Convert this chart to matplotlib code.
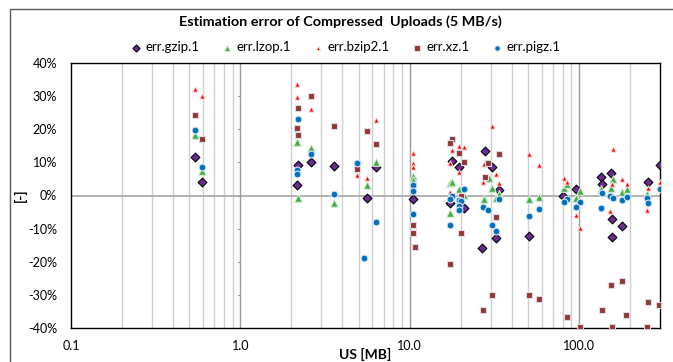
import numpy as np
import matplotlib.pyplot as plt
from matplotlib.patches import Rectangle
from matplotlib.ticker import FixedLocator, NullFormatter

plt.rcParams['font.family'] = ['Lato', 'DejaVu Sans']

# --- data: (upload size [MB], estimation error [%]) ---
gzip_x = [0.54, 0.59, 2.2, 2.16, 2.6, 3.55, 5.56, 6.3, 10.5, 17.8, 17.2, 19.5, 21, 27.9, 30.7,
          33.7, 32.2, 26.7, 50.3, 80.7, 95.7, 134, 154, 136, 157, 178, 157, 255, 298]
gzip_y = [11.5, 4.2, 9.2, 3.3, 10.2, 8.9, -0.7, 8.7, -1.0, 10.4, -2.4, 8.5, -3.9, 13.5, 8.6,
          1.8, -12.9, -15.9, -12.2, -0.2, 1.9, 5.5, 6.7, 3.4, -7.0, -9.1, -12.4, 4.0, 9.2]

lzop_x = [0.54, 0.59, 2.16, 2.2, 2.6, 3.55, 5.56, 6.3, 10.5, 10.5, 17.2, 17.8, 17.2, 19.5, 21,
          29.4, 30.7, 33.7, 27.5, 32.2, 50.3, 57.6, 81.9, 84.7, 101, 95.7, 159, 153.8, 134,
          178, 191, 250, 298]
lzop_y = [18.3, 7.5, 16.2, -0.7, 14.4, -2.3, 3.1, 10.0, 5.9, 4.7, 3.7, 4.1, -5.2, 1.9, 0.2,
          5.2, 2.4, 0.5, -1.1, -0.8, -1.2, -0.5, 2.2, 3.4, 1.5, -0.7, 4.9, 2.2, 1.9,
          1.1, 1.9, 0.5, 3.0]

bzip2_x = [0.54, 0.59, 2.16, 2.16, 2.6, 4.88, 5.56, 6.3, 10.5, 10.5, 10.5, 17.8, 17.2, 17.2,
           19.5, 21, 19.5, 30.7, 27.6, 32.2, 27.0, 33.7, 50.3, 57.6, 81.9, 84.7, 95.7, 101,
           159, 178, 157, 191, 152, 255, 250, 298]
bzip2_y = [32.2, 30.0, 33.8, 29.7, 26.0, 6.2, 5.4, 22.8, 12.7, 9.7, 8.5, 13.7, 9.7, 1.2,
           15.0, 14.5, 7.2, 21.0, 9.6, 6.5, 4.0, 3.9, 12.4, 9.2, 5.4, 4.2, -5.9, -9.9,
           14.0, 5.1, 3.5, 3.4, -4.7, 2.2, -4.4, 4.0]

xz_x = [0.54, 0.59, 2.2, 2.16, 2.2, 2.6, 3.55, 4.88, 5.56, 6.3, 10.5, 10.5, 10.7, 17.8, 17.2,
        17.2, 19.5, 21, 20, 20, 33.7, 29.1, 27.9, 32.2, 30.7, 27.0, 50.5, 57.6, 84.5, 101,
        136, 154, 178, 157, 189, 254, 250, 297]
xz_y = [24.4, 17.0, 26.4, 20.3, 18.2, 29.9, 21.1, 7.9, 19.6, 15.5, -9.0, -11.2, -15.5, 17.0, 15.8,
        -20.7, 12.9, 10.2, -0.2, -11.4, 12.4, 9.9, 5.5, -6.4, -30.1, -34.6, -30.0, -31.3, -36.6, -39.8,
        -34.5, -27.1, -25.8, -39.8, -36.0, -32.2, -39.8, -33.2]

pigz_x = [0.54, 0.59, 2.2, 2.16, 2.16, 2.6, 3.55, 4.88, 5.4, 6.3, 10.5, 10.5, 10.5, 17.8, 17.2,
          17.2, 21, 19.5, 20, 19.5, 19.5, 33.7, 27.0, 29.1, 30.7, 32.2, 57.6, 50.3, 84.7, 81.9,
          101, 95.7, 136, 152, 159, 178, 191, 134, 250, 255, 298]
pigz_y = [19.8, 8.7, 23.1, 7.7, 6.5, 12.6, 0.4, 9.9, -18.9, -8.0, 3.2, 1.4, -5.6, -0.2, -1.2,
          -8.9, 2.1, -1.4, -1.7, -3.2, -4.4, -1.1, -3.4, -4.4, -8.9, -10.6, -4.2, -6.1, -1.1, -1.9,
          -2.1, -3.4, 0.8, -0.2, -0.9, -1.4, -0.4, -3.7, -0.7, -2.4, 1.9]

x_ticks = [0.1, 1, 10, 100]
x_tick_labels = ['0.1', '1.0', '10.0', '100.0']
y_ticks = [-40, -30, -20, -10, 0, 10, 20, 30, 40]

fig = plt.figure(figsize=(6.73, 3.62), dpi=100)
ax = fig.add_axes([71 / 673, 1 - 328 / 362, 589 / 673, 265 / 362])

# chart frame (right and bottom edges lie outside the picture)
fig.patches.append(Rectangle((10 / 673, -0.1), 0.99, 1.075, transform=fig.transFigure,
                             fill=False, edgecolor='#595959', linewidth=1.0))

ax.set_xscale('log')
ax.set_xlim(0.1, 300)
ax.set_ylim(-40, 40)

# grid: minor vertical lines light, decades darker
minors = [m * 10.0 ** e for e in range(-1, 3) for m in range(2, 10) if m * 10.0 ** e < 300]
for xv in minors:
    ax.axvline(xv, color='#D0D0D0', linewidth=1.0, zorder=0)
for xv in x_ticks[1:]:
    ax.axvline(xv, color='#9A9A9A', linewidth=1.0, zorder=0)
ax.axhline(0, color='#A6A6A6', linewidth=1.2, zorder=0)
# little tick marks on the vertical axis crossing at 1.0
for yv in y_ticks:
    ax.plot([0.965, 1.0], [yv, yv], color='#9A9A9A', linewidth=0.8, zorder=0)

ax.scatter(gzip_x, gzip_y, marker='D', s=20, color='#6A2C91', edgecolors='black',
           linewidths=0.8, label='err.gzip.1', zorder=3)
ax.scatter(lzop_x, lzop_y, marker='^', s=30, color='#3DAE48', edgecolors='#D8E8D0',
           linewidths=0.8, label='err.lzop.1', zorder=3)
ax.scatter(bzip2_x, bzip2_y, marker='^', s=14, color='#FF0000', edgecolors='#F4DADA',
           linewidths=0.7, label='err.bzip2.1', zorder=3)
ax.scatter(xz_x, xz_y, marker='s', s=24, color='#963634', edgecolors='#D9DDE6',
           linewidths=0.8, label='err.xz.1', zorder=3)
ax.scatter(pigz_x, pigz_y, marker='o', s=24, color='#0070C0', edgecolors='#DCE6F2',
           linewidths=0.8, label='err.pigz.1', zorder=3)

ax.xaxis.set_major_locator(FixedLocator(x_ticks))
ax.set_xticklabels(x_tick_labels)
ax.xaxis.set_minor_formatter(NullFormatter())
ax.set_yticks(y_ticks)
ax.set_yticklabels([f'{v}%' for v in y_ticks])
ax.tick_params(axis='both', which='both', length=0, labelsize=9, colors='#000000')
ax.tick_params(axis='y', pad=10)
ax.tick_params(axis='x', pad=9)

for sp in ax.spines.values():
    sp.set_color('black')
    sp.set_linewidth(1.0)

ax.set_xlabel('US [MB]', fontsize=10, fontweight='bold')
ax.xaxis.set_label_coords(0.5, (328 - 361) / 265, transform=ax.transAxes)
ax.xaxis.label.set_va('bottom')
ax.set_ylabel('[-]', fontsize=10, fontweight='bold')
ax.yaxis.set_label_coords((20 - 71) / 589, 0.5, transform=ax.transAxes)
ax.yaxis.label.set_va('center')

fig.text(340 / 673, 1 - 22 / 362, 'Estimation error of Compressed  Uploads (5 MB/s)',
         ha='center', va='center', fontsize=10.4, fontweight='bold')

fig.legend(loc='center', bbox_to_anchor=(345 / 673, 1 - 47 / 362), ncol=5, frameon=False,
           fontsize=9.5, handletextpad=0.2, columnspacing=1.6, markerscale=0.8,
           borderaxespad=0, handlelength=1.0)

fig.savefig('out.png', dpi=100)
